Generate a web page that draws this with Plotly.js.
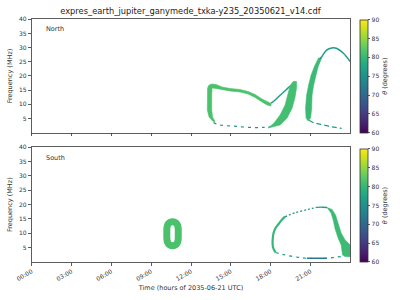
<!DOCTYPE html>
<html><head><meta charset="utf-8">
<script src="https://cdn.plot.ly/plotly-3.0.1.min.js"></script>
<style>html,body{margin:0;padding:0;background:#fff}#plot{width:400px;height:300px}</style>
</head><body><div id="plot"></div>
<script>
// ---------- data (hours of day, MHz, theta in degrees) ----------
const tickHours = [0, 3, 6, 9, 12, 15, 18, 21];
const tickLabels = ["00:00", "03:00", "06:00", "09:00", "12:00", "15:00", "18:00", "21:00"];
const freqTicks = [5, 10, 15, 20, 25, 30, 35, 40];
const cbTicks = [60, 65, 70, 75, 80, 85, 90];

// North: C-shaped band (outline of the thick emission band)
const nC_x = [13.66,13.36,13.23,13.23,13.25,13.36,13.59,13.89,14.34,14.94,15.70,16.30,16.83,17.35,17.73,18.03,
              18.03,17.73,17.35,16.83,16.30,15.70,14.94,14.34,13.89,13.59,13.56,13.56,13.62,13.81,13.66];
const nC_y = [3.95,5.54,8.01,13.30,15.77,16.83,17.18,17.00,16.12,15.59,15.24,14.53,13.47,11.89,10.83,10.30,
              9.42,9.77,10.83,12.42,13.65,14.36,14.71,15.06,15.59,15.77,13.30,8.01,5.54,3.95,3.95];
const nC_theta = 81.5;
// North: right crescent of the C
const nR_x = [17.81,18.71,19.24,19.62,19.84,19.95,19.95,19.69,19.46,19.31,19.09,18.71,18.26,17.81];
const nR_y = [1.66,2.72,5.19,8.71,12.59,15.77,18.06,18.06,16.47,13.30,9.77,6.24,3.42,1.66];
const nR_theta = 81;
// North: thin link from C minimum to crescent top
const nL_x = [18.03,18.40,18.71,19.05,19.34,19.62,19.84];
const nL_y = [10.40,11.80,13.20,14.60,15.90,17.00,17.90];
const nL_theta = 77;
// North: faint bottom trace under the C
const nB_x = [13.70,14.00,14.60,15.20,16.00,16.80,17.50,18.00];
const nB_y = [3.60,2.90,2.50,2.30,2.00,1.80,1.90,2.10];
const nB_theta = 75;
// North: arch (thick left leg)
const nA_x = [20.82,20.67,20.63,20.71,20.86,21.05,21.31,21.61,21.84,21.57,21.42,21.24,21.12,21.09,21.01,20.82];
const nA_y = [4.13,5.19,8.71,13.30,16.83,20.35,23.53,26.35,26.35,23.17,20.35,16.83,13.30,8.71,5.19,4.13];
const nA_theta = 80.5;
// North: arch top (thin)
const nT_x = [21.70,21.85,22.23,22.60,22.95,23.48,23.99];
const nT_y = [26.00,26.80,29.20,29.90,29.80,28.00,25.10];
const nT_theta = 76.5;
// North: arch tail
const nK_x = [20.90,21.20,21.50,22.00,22.55,23.35];
const nK_y = [4.40,3.60,3.20,2.70,2.10,1.55];
const nK_theta = 76;

// South: "0"-shaped ring (centre line)
const sO_x = [11.04,11.03,10.95,10.80,10.61,10.42,10.27,10.19,10.18,10.19,10.27,10.42,10.61,10.80,10.95,11.03,11.04];
const sO_y = [9.85,12.00,13.20,13.85,14.03,13.85,13.20,12.00,9.85,7.70,6.50,5.85,5.67,5.85,6.50,7.70,9.85];
const sO_theta = 81.5;
// South: loop left leg
const sLe_x = [18.37,18.17,18.15,18.22,18.37,18.60,18.86,19.09];
const sLe_y = [3.31,5.23,7.67,10.11,11.86,13.25,14.82,15.80];
const sLe_theta = 80;
// South: loop top (dotted part, then solid part)
const sTop_x = [19.09,19.84,20.84,21.48];
const sTop_y = [15.80,17.19,18.38,19.08];
const sTop_theta = 76;
const sTop2_x = [21.48,21.90,22.25];
const sTop2_y = [19.08,19.10,19.00];
const sTop2_theta = 76.5;
// South: right band
const sR_x = [22.25,22.63,22.89,23.08,23.31,23.61,23.91,24.00,24.00,23.60,23.42,23.38,23.31,23.08,22.86,22.71,22.55,22.25];
const sR_y = [19.00,18.31,16.39,13.25,10.11,7.67,6.28,5.93,1.80,1.90,2.40,3.80,5.93,8.37,11.51,14.65,17.09,19.00];
const sR_theta = 80.5;
// South: bottom trace
const sB_x = [18.37,19.09,20.07,20.72,22.23,22.86,23.45];
const sB_y = [3.31,2.44,1.64,1.29,1.29,1.64,2.00];
const sB_theta = 76;
const sBs_x = [20.72,22.23];
const sBs_y = [1.29,1.29];
const sBs_theta = 72;

// ---------- colour scale (viridis, 60..90 deg) ----------
const viridis = [[0,'#440154'],[0.0627,'#48186a'],[0.1255,'#472d7b'],[0.1882,'#424086'],[0.2510,'#3b528b'],
 [0.3137,'#33638d'],[0.3765,'#2c728e'],[0.4392,'#26828e'],[0.5020,'#21918c'],[0.5647,'#1fa088'],
 [0.6275,'#28ae80'],[0.6902,'#3fbc73'],[0.7529,'#5ec962'],[0.8157,'#84d44b'],[0.8784,'#addc30'],
 [0.9412,'#d8e219'],[1,'#fde725']];
const cmin = 60, cmax = 90;
function hex(c){return [parseInt(c.slice(1,3),16),parseInt(c.slice(3,5),16),parseInt(c.slice(5,7),16)];}
function vcol(theta){
  const t = Math.max(0, Math.min(1, (theta - cmin) / (cmax - cmin)));
  for (let i = 1; i < viridis.length; i++) {
    if (t <= viridis[i][0]) {
      const a = viridis[i-1], b = viridis[i];
      const f = (t - a[0]) / (b[0] - a[0]);
      const ca = hex(a[1]), cb = hex(b[1]);
      const c = ca.map((v, k) => Math.round(v + f * (cb[k] - v)));
      return 'rgb(' + c.join(',') + ')';
    }
  }
  return viridis[viridis.length-1][1];
}

function band(x, y, theta, ax){
  const c = vcol(theta);
  return {type:'scatter', mode:'lines', x:x, y:y, fill:'toself', fillcolor:c,
    line:{color:c, width:0.6}, xaxis:ax[0], yaxis:ax[1], hoverinfo:'skip', showlegend:false};
}
function line(x, y, theta, w, dash, ax, spline){
  return {type:'scatter', mode:'lines', x:x, y:y,
    line:{color:vcol(theta), width:w, dash:dash, shape: spline ? 'spline' : 'linear'},
    xaxis:ax[0], yaxis:ax[1], hoverinfo:'skip', showlegend:false};
}
const AX_TOP = ['x','y'], AX_BOT = ['x2','y2'];

function cbTrace(ax, y0){
  return {type:'scatter', mode:'markers', x:[sO_x[0]], y:[sO_y[0]], xaxis:ax[0], yaxis:ax[1],
    hoverinfo:'skip', showlegend:false,
    marker:{size:1, opacity:0, color:[cmin], cmin:cmin, cmax:cmax, colorscale:'Viridis', showscale:true,
      colorbar:{x:0.9, xanchor:'left', xpad:0, ypad:0, y:y0, yanchor:'bottom', len:0.378, lenmode:'fraction',
        thickness:7.5, thicknessmode:'pixels', outlinewidth:0.8, outlinecolor:'#333',
        tickvals:cbTicks, ticks:'outside', ticklen:2.5, tickwidth:0.8, tickcolor:'#333',
        tickfont:{family:'DejaVu Sans', size:6, color:'#333'},
        title:{text:'<i>θ</i> (degrees)', side:'right', font:{family:'DejaVu Sans', size:6.5, color:'#333'}}}}};
}

const traces = [
  line(nB_x, nB_y, nB_theta, 1.2, '3px,4px', AX_TOP, true),
  line(nK_x, nK_y, nK_theta, 1.2, '5px,3px', AX_TOP, true),
  line(nL_x, nL_y, nL_theta, 1.5, 'solid', AX_TOP, true),
  band(nC_x, nC_y, nC_theta, AX_TOP),
  band(nR_x, nR_y, nR_theta, AX_TOP),
  band(nA_x, nA_y, nA_theta, AX_TOP),
  line(nT_x, nT_y, nT_theta, 1.5, 'solid', AX_TOP, true),
  line(sO_x, sO_y, sO_theta, 7, 'solid', AX_BOT, true),
  line(sB_x, sB_y, sB_theta, 1.2, '3px,4px', AX_BOT, true),
  line(sBs_x, sBs_y, sBs_theta, 1.4, 'solid', AX_BOT, false),
  line(sLe_x, sLe_y, sLe_theta, 2.2, 'solid', AX_BOT, true),
  line(sTop_x, sTop_y, sTop_theta, 1.3, '2px,2px', AX_BOT, true),
  line(sTop2_x, sTop2_y, sTop2_theta, 1.3, 'solid', AX_BOT, true),
  band(sR_x, sR_y, sR_theta, AX_BOT),
  cbTrace(AX_TOP, 0.5577),
  cbTrace(AX_BOT, 0.1267)
];

const axCommon = {range:[0,24], showgrid:false, zeroline:false, showline:true, mirror:true,
  linecolor:'#333', linewidth:0.8, ticks:'outside', ticklen:3, tickwidth:0.8, tickcolor:'#333',
  tickvals:tickHours, ticktext:tickLabels, tickfont:{family:'DejaVu Sans', size:6, color:'#333'}};
const ayCommon = {range:[0,40], showgrid:false, zeroline:false, showline:true, mirror:true,
  linecolor:'#333', linewidth:0.8, ticks:'outside', ticklen:3, tickwidth:0.8, tickcolor:'#333',
  tickvals:freqTicks, tickfont:{family:'DejaVu Sans', size:6, color:'#333'},
  title:{text:'Frequency (MHz)', font:{family:'DejaVu Sans', size:6.5, color:'#333'}, standoff:5}};

const layout = {
  width:400, height:300, margin:{l:0, r:0, t:0, b:0}, paper_bgcolor:'#fff', plot_bgcolor:'#fff',
  showlegend:false,
  title:{text:'expres_earth_jupiter_ganymede_txka-y235_20350621_v14.cdf', x:0.476, xanchor:'center',
    y:0.963, yanchor:'middle', font:{family:'DejaVu Sans', size:8.3, color:'#222'}},
  xaxis: Object.assign({}, axCommon, {domain:[0.07925,0.87575], anchor:'y', showticklabels:false}),
  yaxis: Object.assign({}, ayCommon, {domain:[0.5577,0.9357], anchor:'x'}),
  xaxis2: Object.assign({}, axCommon, {domain:[0.07925,0.87575], anchor:'y2', tickangle:-30,
    title:{text:'Time (hours of 2035-06-21 UTC)', font:{family:'DejaVu Sans', size:6.5, color:'#333'}, standoff:4}}),
  yaxis2: Object.assign({}, ayCommon, {domain:[0.1267,0.509], anchor:'x2'}),
  annotations:[
    {text:'North', xref:'paper', yref:'paper', x:0.11, y:0.902, xanchor:'left', yanchor:'middle', showarrow:false,
     font:{family:'DejaVu Sans', size:6.5, color:'#333'}},
    {text:'South', xref:'paper', yref:'paper', x:0.11, y:0.472, xanchor:'left', yanchor:'middle', showarrow:false,
     font:{family:'DejaVu Sans', size:6.5, color:'#333'}}
  ]
};
Plotly.newPlot('plot', traces, layout, {staticPlot:true, displayModeBar:false});
</script></body></html>
